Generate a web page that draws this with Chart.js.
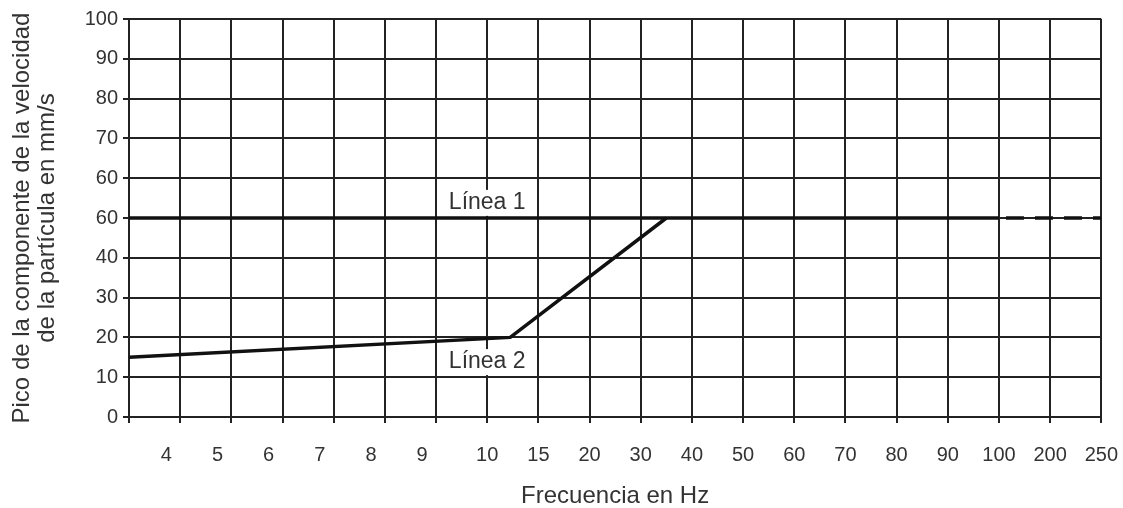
<!DOCTYPE html>
<html>
<head>
<meta charset="utf-8">
<script src="https://cdn.jsdelivr.net/npm/chart.js@4/dist/chart.umd.min.js"></script>
<style>
  html, body { margin: 0; padding: 0; background: #fff; }
  #wrap { width: 1123px; height: 508px; }
</style>
</head>
<body>
<div id="wrap"><canvas id="velocity_chart"></canvas></div>
<script>
// eje x no uniforme: cada etiqueta ocupa una división
const freqLabels = ["4", "5", "6", "7", "8", "9", "10", "15", "20", "30", "40", "50", "60", "70", "80", "90", "100", "200", "250"];
// etiquetas del eje y tal como aparecen en la figura
const yTickLabels = ["0", "10", "20", "30", "40", "60", "60", "70", "80", "90", "100"];

const line1X = [0, 17, 19];
const line1Y = [50, 50, 50];
const line2X = [0, 7.45, 10.5];
const line2Y = [15, 20, 50];
const lineNames = ["Línea 1", "Línea 2"];

const FONT = "'Liberation Sans', Arial, sans-serif";
const GRID = "#222";

const toPoints = (xs, ys) => xs.map((x, i) => ({ x: x, y: ys[i] }));

// nombres de las líneas con fondo blanco sobre la cuadrícula
const lineLabels = {
  id: "lineLabels",
  beforeDatasetsDraw(chart) {
    const { ctx, scales } = chart;
    const spots = [[7, 53.8], [7, 13.8]];
    ctx.save();
    ctx.font = "23px " + FONT;
    ctx.textAlign = "center";
    ctx.textBaseline = "middle";
    lineNames.forEach((name, i) => {
      const px = scales.x.getPixelForValue(spots[i][0]);
      const py = scales.y.getPixelForValue(spots[i][1]);
      const w = ctx.measureText(name).width;
      ctx.fillStyle = "#fff";
      ctx.fillRect(px - w / 2 - 3, py - 13, w + 6, 26);
      ctx.fillStyle = "#333";
      ctx.fillText(name, px, py);
    });
    ctx.restore();
  },
};

Chart.defaults.font.family = FONT;
Chart.defaults.color = "#333";

const ctx = document.getElementById("velocity_chart");
new Chart(ctx, {
  type: "scatter",
  data: {
    datasets: [
      {
        data: toPoints(line1X, line1Y),
        showLine: true,
        borderColor: "#111",
        borderWidth: 3.5,
        pointRadius: 0,
        segment: {
          borderDash: (c) => (c.p0DataIndex >= 1 ? [18, 11] : undefined),
          borderDashOffset: (c) => (c.p0DataIndex >= 1 ? 22 : 0),
        },
      },
      {
        data: toPoints(line2X, line2Y),
        showLine: true,
        borderColor: "#111",
        borderWidth: 3.5,
        pointRadius: 0,
      },
    ],
  },
  options: {
    responsive: true,
    maintainAspectRatio: false,
    animation: false,
    layout: { padding: { top: 19, right: 5, left: 0, bottom: 0 } },
    plugins: {
      legend: { display: false },
      tooltip: { enabled: false },
    },
    scales: {
      x: {
        type: "linear",
        min: 0,
        max: 19,
        afterFit: (s) => { s.height = 91; },
        ticks: {
          stepSize: 1,
          autoSkip: false,
          maxRotation: 0,
          padding: 5,
          // lineHeight alto para bajar las etiquetas sin ensanchar el margen derecho
          font: { size: 20, lineHeight: 2.7 },
          // en la figura las etiquetas 4..9 quedan algo a la izquierda de su línea
          callback: (v) => {
            const label = freqLabels[v - 1] || "";
            return v >= 1 && v <= 6 ? label + "     " : label;
          },
        },
        grid: { color: GRID, lineWidth: 2, tickLength: 6 },
        border: { color: GRID, width: 2 },
        title: {
          display: true,
          text: "Frecuencia en Hz",
          font: { size: 24, lineHeight: 1.0 },
          padding: { top: 0, bottom: 0 },
        },
      },
      y: {
        min: 0,
        max: 100,
        afterFit: (s) => { s.width = 129; },
        ticks: {
          stepSize: 10,
          padding: 5,
          font: { size: 20 },
          callback: (v) => yTickLabels[v / 10],
        },
        grid: { color: GRID, lineWidth: 2, tickLength: 6 },
        border: { color: GRID, width: 2 },
        title: {
          display: true,
          text: ["Pico de la componente de la velocidad", "de la partícula en mm/s"],
          font: { size: 24, lineHeight: 1.05 },
          padding: { top: 10, bottom: 0 },
        },
      },
    },
  },
  plugins: [lineLabels],
});
</script>
</body>
</html>
